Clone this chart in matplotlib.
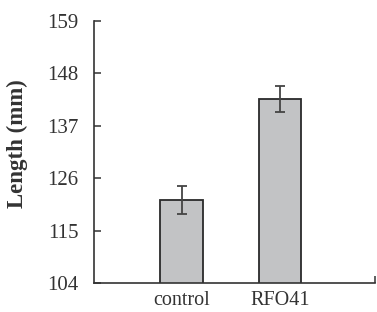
import matplotlib
matplotlib.use('Agg')
import matplotlib.pyplot as plt

# data
groups = ['control', 'RFO41']
lengths = [121.4, 142.6]
errors = [2.9, 2.7]
y_ticks = [104, 115, 126, 137, 148, 159]

plt.rcParams['font.family'] = ['Liberation Serif', 'DejaVu Serif']

fig = plt.figure(figsize=(3.77, 3.12), dpi=100)
ax = fig.add_axes([0.249, 0.093, 0.746, 0.84])

x = list(range(len(groups)))
ax.bar(x, lengths, width=0.43, color='#c2c3c5', edgecolor='#2a2a2a', linewidth=1.3,
       yerr=errors, capsize=3.5,
       error_kw=dict(ecolor='#444444', elinewidth=1.3, capthick=1.3))

ax.set_ylim(y_ticks[0], y_ticks[-1])
ax.set_yticks(y_ticks)
ax.set_xlim(-0.892, 1.966)
ax.set_xticks(x)
ax.set_xticklabels(groups)
ax.set_xticks([1.966], minor=True)

for s in ['top', 'right']:
    ax.spines[s].set_visible(False)
for s in ['left', 'bottom']:
    ax.spines[s].set_color('#333333')
    ax.spines[s].set_linewidth(1.2)

ax.tick_params(axis='y', direction='in', length=5, width=1.1, color='#333333',
               labelsize=15, pad=11, labelcolor='#333333')
ax.tick_params(axis='x', which='major', length=0, labelsize=14.5, pad=6, labelcolor='#333333')
ax.tick_params(axis='x', which='minor', direction='in', length=5, width=1.1, color='#333333')

ax.set_ylabel('Length (mm)', fontsize=16.5, fontweight='bold', color='#333333')
ax.yaxis.set_label_coords(-0.235, 0.53)

fig.savefig('out.png', dpi=100)
